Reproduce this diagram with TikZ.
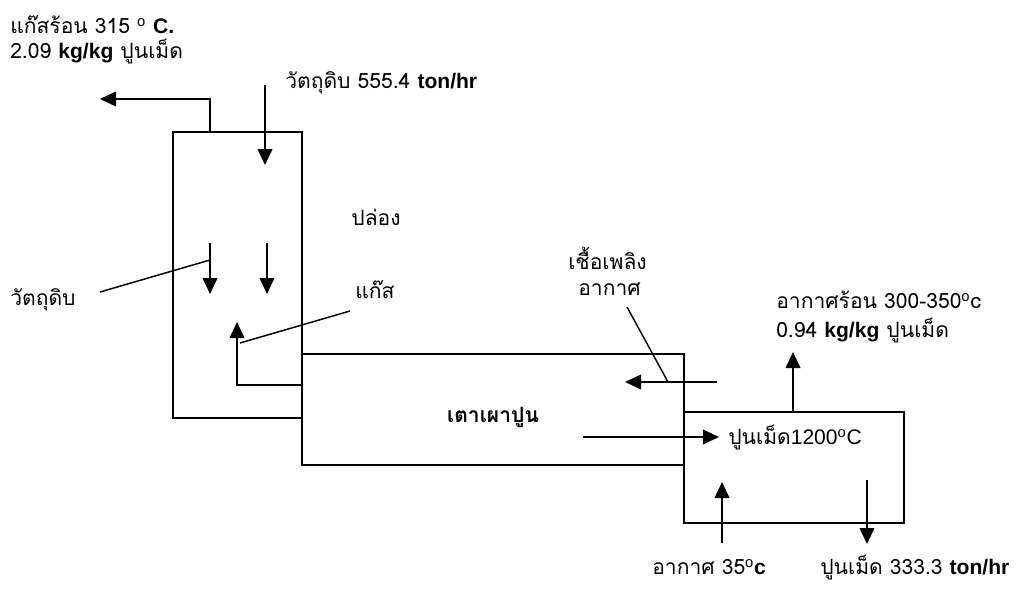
\documentclass[tikz,border=0pt]{standalone}
\usepackage{fontspec}
\usetikzlibrary{arrows.meta,positioning}
\setmainfont{Loma}[Script=Thai]
\newfontfamily\latf{Liberation Sans}
\newcommand{\bunit}[1]{{\latf\bfseries #1}}
\newcommand{\degr}{\textsuperscript{\latf o}}

\tikzset{
  flow/.style={line width=1.3pt,-{Triangle[length=12pt,width=11pt]}},
  wall/.style={line width=1.3pt},
  lbl/.style={inner sep=0pt,font=\fontsize{15.8}{18}\selectfont}
}

\begin{document}
\begin{tikzpicture}[x=0.75pt,y=-0.75pt]
        \useasboundingbox (0,0) rectangle (1021,590);
        % tower, kiln and cooler
        \draw[wall] (173,132) rectangle (302,418);
        \draw[wall] (302,354) rectangle (684,465);
        \draw[wall] (684,412) rectangle (904,523);
        % flows through the tower
        \coordinate (gasout) at (210,132);
        \coordinate (gastip) at (100,99);
        \draw[flow] (gasout) |- (gastip);
        \coordinate (feedin) at (265,85);
        \coordinate (feedtip) at (265,165);
        \draw[flow] (feedin) -- (feedtip);
        \coordinate (dropA) at (210,243);
        \coordinate (dropB) at (267,243);
        \draw[flow] (dropA) -- ++(0,51);
        \draw[flow] (dropB) -- ++(0,51);
        \coordinate (kilngas) at (302,385);
        \coordinate (gastop) at (237,322);
        \draw[flow] (kilngas) -| (gastop);
        % flows in kiln and cooler
        \coordinate (airin) at (717,382);
        \coordinate (airtip) at (625,382);
        \draw[flow] (airin) -- (airtip);
        \coordinate (hotair) at (793,412);
        \draw[flow] (hotair) -- ++(0,-60);
        \coordinate (clkin) at (583,437);
        \coordinate (clktip) at (719,437);
        \draw[flow] (clkin) -- (clktip);
        \coordinate (coolin) at (722,543);
        \draw[flow] (coolin) -- ++(0,-61);
        \coordinate (clkout) at (867,480);
        \draw[flow] (clkout) -- ++(0,64);
        % labels
        \node[lbl,anchor=west] (hotgas) at (10,25) {แก๊สร้อน 315 \degr\ \bunit{C.}};
        \node[lbl,anchor=west] (gasrate) at (10,52) {2.09 \bunit{kg/kg} ปูนเม็ด};
        \node[lbl,anchor=west] (feed) at (285,83) {วัตถุดิบ 555.4 \bunit{ton/hr}};
        \node[lbl] (stack) at (376,217) {ปล่อง};
        \node[lbl,anchor=west] (raw) at (10,300) {วัตถุดิบ};
        \node[lbl] (gas) at (375,290) {แก๊ส};
        \node[lbl,anchor=west] (fuel) at (568,258) {เชื้อเพลิง};
        \node[lbl,anchor=west] (air) at (578,289) {อากาศ};
        \node[lbl,anchor=west] (hot) at (776,300) {อากาศร้อน 300-350\degr c};
        \node[lbl,anchor=west] (hotrate) at (776,330) {0.94 \bunit{kg/kg} ปูนเม็ด};
        \node[lbl,font=\fontsize{15.8}{18}\selectfont\bfseries] (kiln) at (493,417) {เตาเผาปูน};
        \node[lbl,anchor=west] (clinker) at (728,437) {ปูนเม็ด{\latf 1200}\degr{\latf C}};
        \node[lbl,anchor=west] (cold) at (652,567) {อากาศ 35\degr\bunit{c}};
        \node[lbl,anchor=west] (product) at (820,567) {ปูนเม็ด 333.3 \bunit{ton/hr}};
        % leader lines
        \coordinate (rawend) at (100,292);
        \draw[line width=1.1pt] (rawend) -- (dropA|-0,260);
        \coordinate (gasend) at (240,343);
        \draw[line width=1.1pt] (gasend) -- (350,311);
        \coordinate (airend) at (668,382);
        \draw[line width=1.1pt] (airend) -- (627,307);
      \end{tikzpicture}
\end{document}
